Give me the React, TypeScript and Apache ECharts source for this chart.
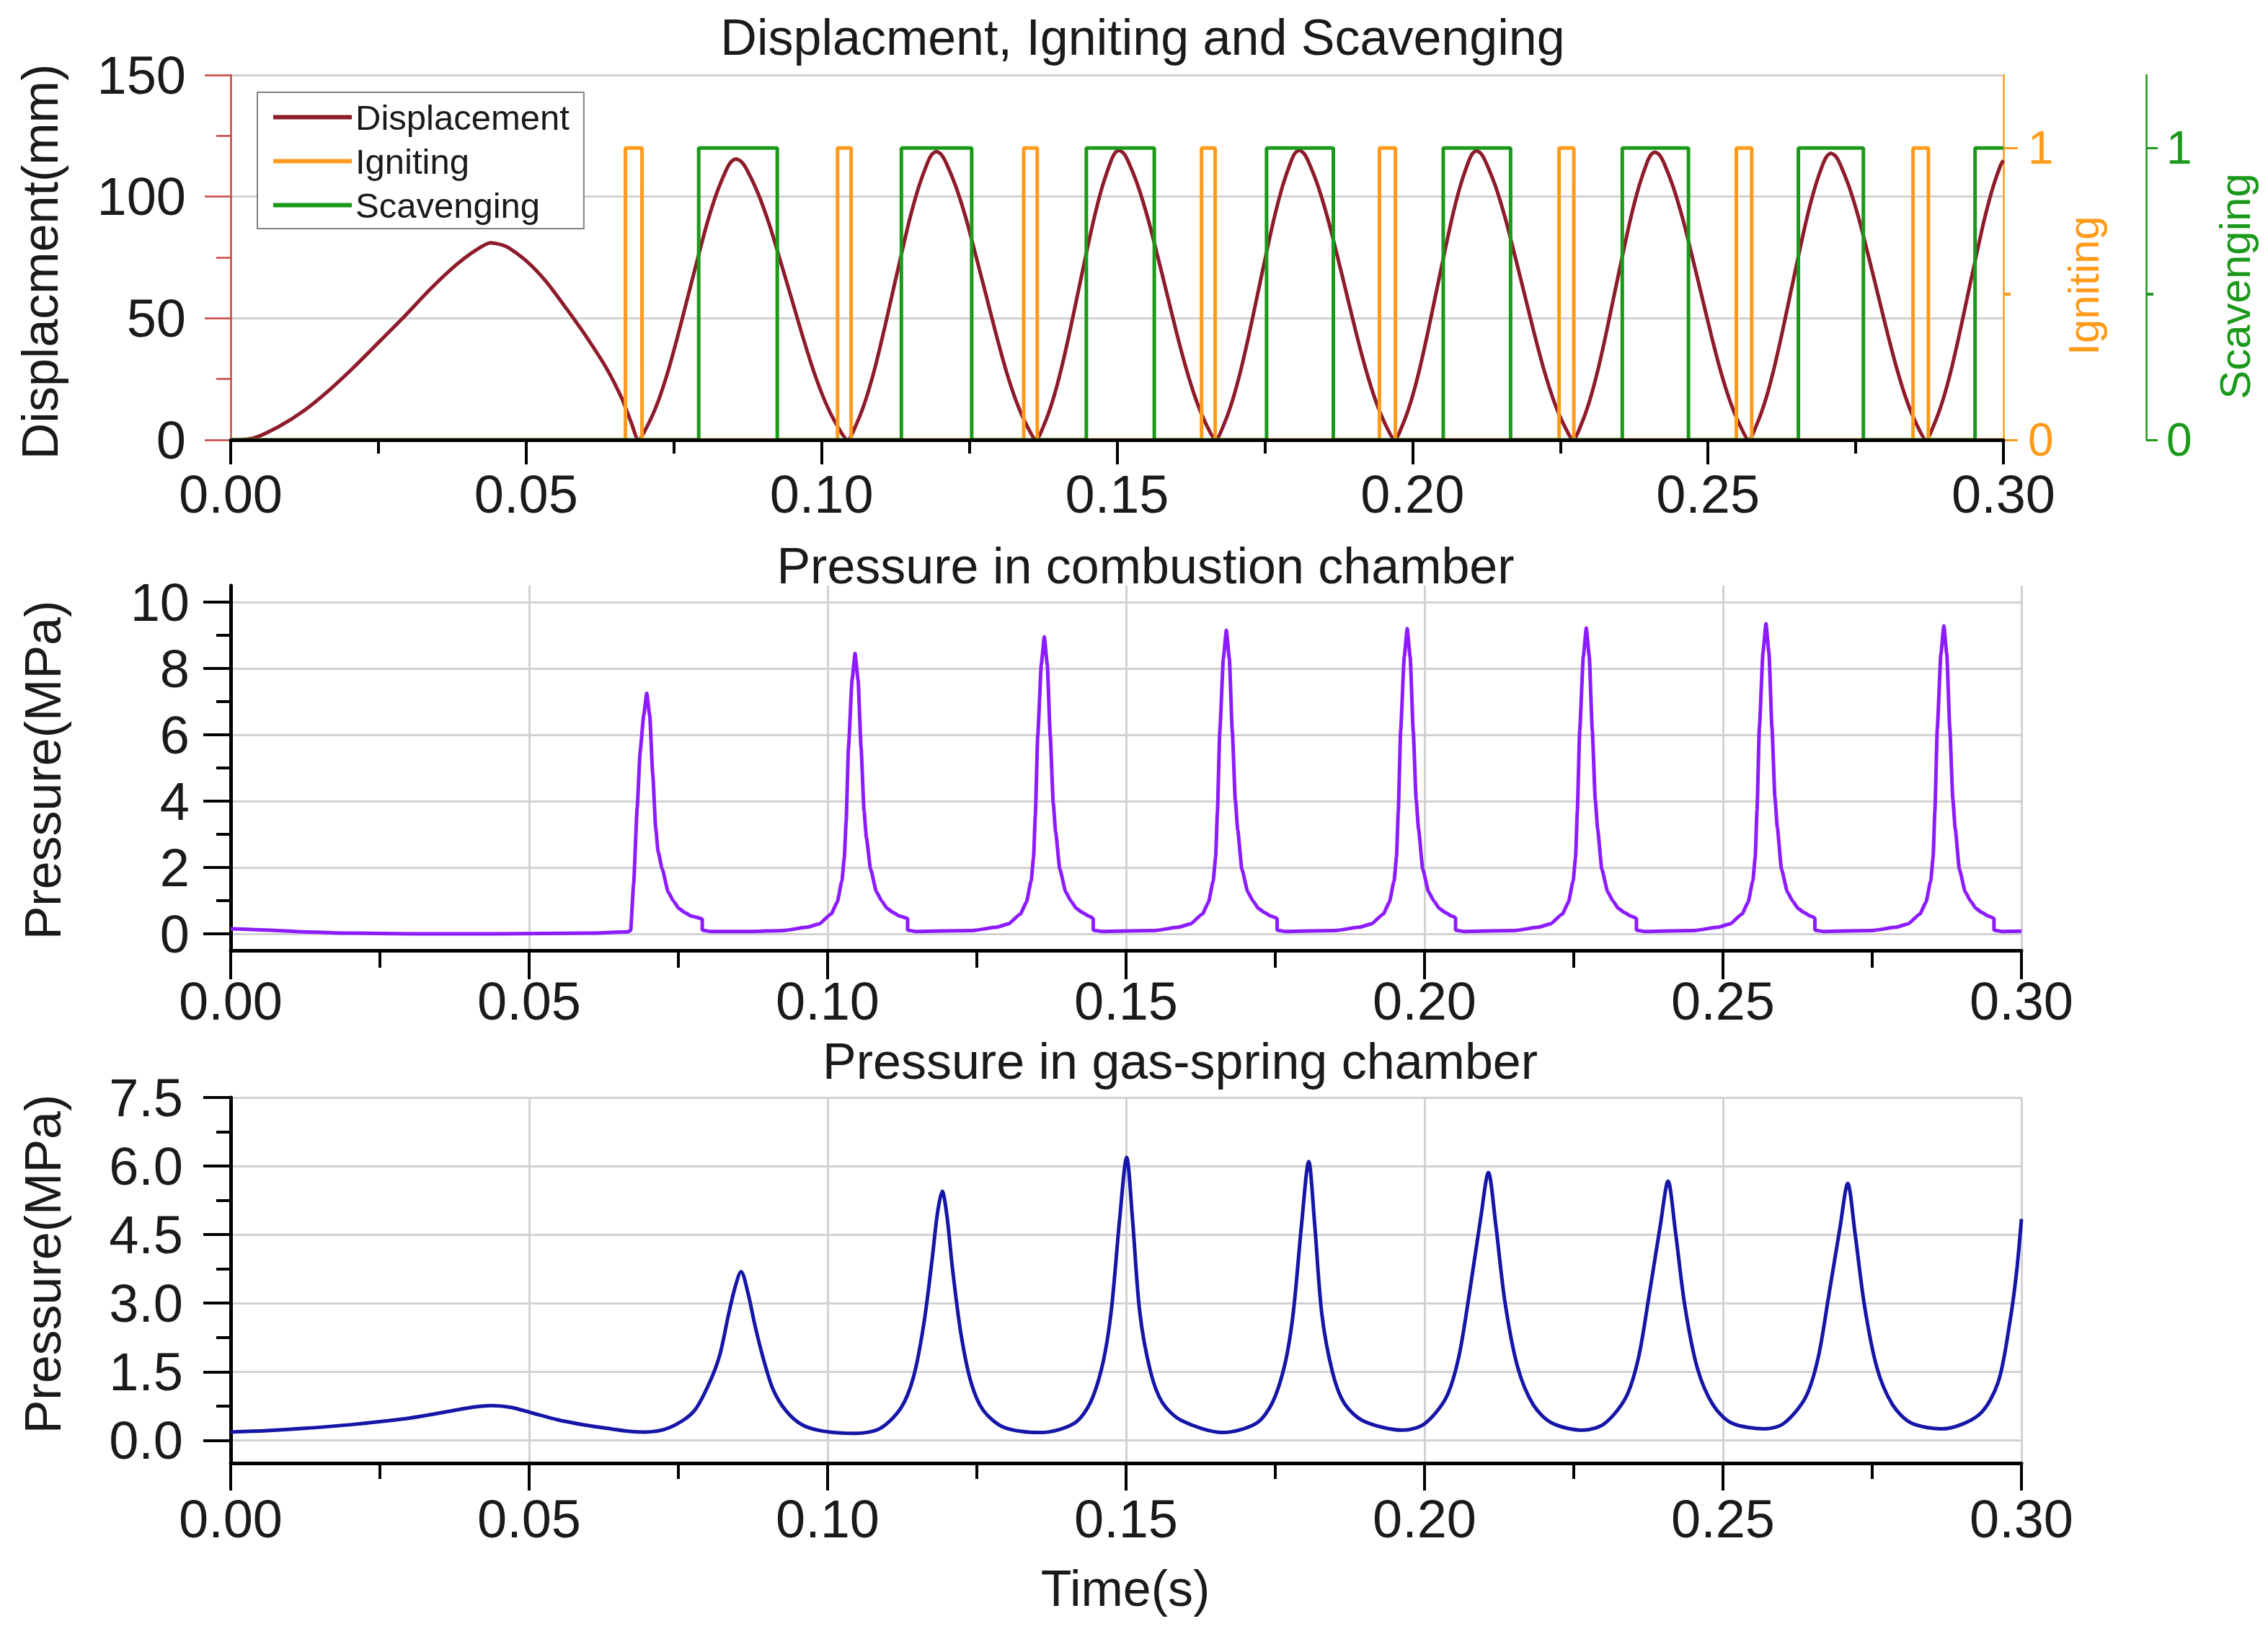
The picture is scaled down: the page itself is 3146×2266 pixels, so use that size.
import React, { useEffect, useRef } from 'react';
import * as echarts from 'echarts';

const FONT = "'Liberation Sans', Arial, Helvetica, sans-serif";
const INK = '#1a1a1a';
const RED_AXIS = '#c8453f';
const DISP_COLOR = '#8e1b2a';
const IGN_COLOR = '#ff9a1a';
const SCAV_COLOR = '#1a991a';
const COMB_COLOR = '#8c1cff';
const GAS_COLOR = '#1515a8';
const GRID_COLOR = '#d2d2d2';

// ---------- data (time in s) ----------
const displacement: [number, number][] = [
  [0, 0], [0.0038, 0.7], [0.0081, 5.4], [0.0124, 12], [0.0167, 20.5], [0.0209, 30], [0.0252, 40.5],
  [0.0295, 51], [0.0338, 62], [0.038, 71.6], [0.0415, 78], [0.044, 81], [0.0466, 79.5], [0.05, 73.6],
  [0.0534, 65], [0.0568, 54], [0.0603, 42], [0.0637, 29], [0.0662, 17], [0.0678, 7], [0.069, 0],
  [0.07065, 6.4], [0.0723, 15.6], [0.07395, 27.7], [0.0756, 42.2], [0.07725, 57.8], [0.0789, 73.3],
  [0.08055, 88.4], [0.0822, 101.1], [0.08385, 110.9], [0.08468, 114.3], [0.0855, 115.5],
  [0.08645, 114.3], [0.08739, 110.9], [0.08928, 101.1], [0.09117, 88.4], [0.09306, 73.3], [0.09495, 57.8],
  [0.09684, 42.2], [0.09873, 27.7], [0.10062, 15.6], [0.10251, 6.4], [0.1044, 0],
  [0.1059, 6.5], [0.1074, 16.0], [0.1089, 28.4], [0.1104, 43.3], [0.1119, 59.3], [0.1134, 75.2],
  [0.1149, 90.7], [0.1164, 103.7], [0.1179, 113.8], [0.11865, 117.3], [0.1194, 118.5],
  [0.12025, 117.3], [0.12109, 113.8], [0.12278, 103.7], [0.12447, 90.7], [0.12616, 75.2], [0.12785, 59.3],
  [0.12954, 43.3], [0.13123, 28.4], [0.13292, 16.0], [0.13461, 6.5], [0.1363, 0],
  [0.1377, 6.5], [0.1391, 16.1], [0.1405, 28.6], [0.1419, 43.4], [0.1433, 59.5], [0.1447, 75.6],
  [0.1461, 91.0], [0.1475, 104.1], [0.1489, 114.2], [0.1496, 117.8], [0.1503, 119],
  [0.15112, 117.8], [0.15194, 114.2], [0.15358, 104.1], [0.15522, 91.0], [0.15686, 75.6], [0.1585, 59.5],
  [0.16014, 43.4], [0.16178, 28.6], [0.16342, 16.1], [0.16506, 6.5], [0.1667, 0],
  [0.16811, 6.5], [0.16952, 16.1], [0.17093, 28.6], [0.17234, 43.4], [0.17375, 59.5], [0.17516, 75.6],
  [0.17657, 91.0], [0.17798, 104.1], [0.17939, 114.2], [0.1801, 117.8], [0.1808, 119],
  [0.18161, 117.8], [0.18242, 114.2], [0.18404, 104.1], [0.18566, 91.0], [0.18728, 75.6], [0.1889, 59.5],
  [0.19052, 43.4], [0.19214, 28.6], [0.19376, 16.1], [0.19538, 6.5], [0.197, 0],
  [0.19838, 6.5], [0.19976, 16.0], [0.20114, 28.5], [0.20252, 43.4], [0.2039, 59.4], [0.20528, 75.4],
  [0.20666, 90.9], [0.20804, 104.0], [0.20942, 114.0], [0.21011, 117.6], [0.2108, 118.8],
  [0.21162, 117.6], [0.21244, 114.0], [0.21408, 104.0], [0.21572, 90.9], [0.21736, 75.4], [0.219, 59.4],
  [0.22064, 43.4], [0.22228, 28.5], [0.22392, 16.0], [0.22556, 6.5], [0.2272, 0],
  [0.22858, 6.5], [0.22996, 16.0], [0.23134, 28.4], [0.23272, 43.2], [0.2341, 59.2], [0.23548, 75.1],
  [0.23686, 90.5], [0.23824, 103.5], [0.23962, 113.6], [0.24031, 117.1], [0.241, 118.3],
  [0.2418, 117.1], [0.24259, 113.6], [0.24418, 103.5], [0.24577, 90.5], [0.24736, 75.1], [0.24895, 59.2],
  [0.25054, 43.2], [0.25213, 28.4], [0.25372, 16.0], [0.25531, 6.5], [0.2569, 0],
  [0.25829, 6.5], [0.25968, 15.9], [0.26107, 28.3], [0.26246, 43.0], [0.26385, 58.9], [0.26524, 74.8],
  [0.26663, 90.1], [0.26802, 103.1], [0.26941, 113.1], [0.27011, 116.6], [0.2708, 117.8],
  [0.27161, 116.6], [0.27241, 113.1], [0.27402, 103.1], [0.27563, 90.1], [0.27724, 74.8], [0.27885, 58.9],
  [0.28046, 43.0], [0.28207, 28.3], [0.28368, 15.9], [0.28529, 6.5], [0.2869, 0],
  [0.2883, 6.5], [0.2897, 15.9], [0.2911, 28.2], [0.2925, 42.9], [0.2939, 58.8], [0.2953, 74.6],
  [0.2967, 89.9], [0.2981, 102.8], [0.2995, 112.8], [0.3, 114.9],
];

const ignitingOn = [0.0668, 0.1027, 0.1342, 0.1643, 0.1944, 0.2248, 0.2548, 0.2847];
const ignitingOff = [0.0696, 0.105, 0.1365, 0.1666, 0.1971, 0.2273, 0.2574, 0.2873];
const scavengingOn = [0.0792, 0.1135, 0.1448, 0.1753, 0.2052, 0.2355, 0.2653, 0.2952];
const scavengingOff = [0.0925, 0.1254, 0.1563, 0.1866, 0.2166, 0.2467, 0.2763, 0.3];

const combustion: [number, number][] = [
  [0, 0.15], [0.005, 0.12], [0.012, 0.06], [0.02, 0.02], [0.03, 0.0], [0.045, 0.0], [0.06, 0.02],
  [0.0665, 0.06], [0.067, 0.1], [0.0675, 1.5], [0.0681, 3.8], [0.0686, 5.5], [0.0692, 6.6], [0.0697, 7.25],
  [0.0702, 6.58], [0.0707, 4.83], [0.0712, 3.19], [0.0716, 2.49], [0.0723, 1.95], [0.0733, 1.26],
  [0.0742, 0.98], [0.0751, 0.76], [0.0761, 0.64], [0.0771, 0.54], [0.079, 0.45], [0.079, 0.11], [0.0805, 0.07],
  [0.087, 0.07],
  [0.0926, 0.1], [0.0966, 0.2], [0.0986, 0.3], [0.1006, 0.6], [0.1016, 0.95], [0.1024, 1.6], [0.1028, 2.3],
  [0.1031, 3.38], [0.1035, 5.63], [0.1041, 7.66], [0.1046, 8.45],
  [0.1051, 7.66], [0.1056, 5.63], [0.1061, 3.72], [0.1065, 2.9], [0.1072, 1.95], [0.1082, 1.26],
  [0.1091, 0.98], [0.11, 0.76], [0.111, 0.64], [0.112, 0.54], [0.1134, 0.47], [0.1134, 0.11], [0.1149, 0.07],
  [0.1243, 0.1], [0.1283, 0.2], [0.1303, 0.3], [0.1323, 0.6], [0.1333, 0.95], [0.1341, 1.6], [0.1345, 2.3],
  [0.1348, 3.58], [0.1352, 5.96], [0.1358, 8.12], [0.1363, 8.95],
  [0.1368, 8.12], [0.1373, 5.96], [0.1378, 3.94], [0.1382, 3.07], [0.1389, 1.95], [0.1399, 1.26],
  [0.1408, 0.98], [0.1417, 0.76], [0.1427, 0.64], [0.1437, 0.54], [0.1445, 0.47], [0.1445, 0.11], [0.146, 0.07],
  [0.1548, 0.1], [0.1588, 0.2], [0.1608, 0.3], [0.1628, 0.6], [0.1638, 0.95], [0.1646, 1.6], [0.165, 2.3],
  [0.1653, 3.66], [0.1657, 6.09], [0.1663, 8.3], [0.1668, 9.15],
  [0.1673, 8.3], [0.1678, 6.09], [0.1683, 4.03], [0.1687, 3.14], [0.1694, 1.95], [0.1704, 1.26],
  [0.1713, 0.98], [0.1722, 0.76], [0.1732, 0.64], [0.1742, 0.54], [0.1753, 0.47], [0.1753, 0.11], [0.1768, 0.07],
  [0.1851, 0.1], [0.1891, 0.2], [0.1911, 0.3], [0.1931, 0.6], [0.1941, 0.95], [0.1949, 1.6], [0.1953, 2.3],
  [0.1956, 3.68], [0.196, 6.13], [0.1966, 8.34], [0.1971, 9.2],
  [0.1976, 8.34], [0.1981, 6.13], [0.1986, 4.05], [0.199, 3.16], [0.1997, 1.95], [0.2007, 1.26],
  [0.2016, 0.98], [0.2025, 0.76], [0.2035, 0.64], [0.2045, 0.54], [0.2052, 0.49], [0.2052, 0.11], [0.2067, 0.07],
  [0.2151, 0.1], [0.2191, 0.2], [0.2211, 0.3], [0.2231, 0.6], [0.2241, 0.95], [0.2249, 1.6], [0.2253, 2.3],
  [0.2256, 3.69], [0.226, 6.14], [0.2266, 8.36], [0.2271, 9.22],
  [0.2276, 8.36], [0.2281, 6.14], [0.2286, 4.06], [0.229, 3.16], [0.2297, 1.95], [0.2307, 1.26],
  [0.2316, 0.98], [0.2325, 0.76], [0.2335, 0.64], [0.2345, 0.54], [0.2355, 0.47], [0.2355, 0.11], [0.237, 0.07],
  [0.2452, 0.1], [0.2492, 0.2], [0.2512, 0.3], [0.2532, 0.6], [0.2542, 0.95], [0.255, 1.6], [0.2554, 2.3],
  [0.2557, 3.74], [0.2561, 6.23], [0.2567, 8.48], [0.2572, 9.35],
  [0.2577, 8.48], [0.2582, 6.23], [0.2587, 4.11], [0.2591, 3.21], [0.2598, 1.95], [0.2608, 1.26],
  [0.2617, 0.98], [0.2626, 0.76], [0.2636, 0.64], [0.2646, 0.54], [0.2654, 0.48], [0.2654, 0.11], [0.2669, 0.07],
  [0.275, 0.1], [0.279, 0.2], [0.281, 0.3], [0.283, 0.6], [0.284, 0.95], [0.2848, 1.6], [0.2852, 2.3],
  [0.2855, 3.71], [0.2859, 6.18], [0.2865, 8.42], [0.287, 9.28],
  [0.2875, 8.42], [0.288, 6.18], [0.2885, 4.08], [0.2889, 3.18], [0.2896, 1.95], [0.2906, 1.26],
  [0.2915, 0.98], [0.2924, 0.76], [0.2934, 0.64], [0.2944, 0.54], [0.2954, 0.47], [0.2954, 0.11], [0.2969, 0.07],
  [0.3, 0.08],
];

const gasSpring: [number, number][] = [
  [0, 0.18], [0.006, 0.21], [0.0123, 0.26], [0.0208, 0.35], [0.0292, 0.47], [0.0335, 0.56], [0.0377, 0.66],
  [0.041, 0.73], [0.0436, 0.76], [0.047, 0.72], [0.0504, 0.6], [0.0547, 0.45], [0.059, 0.34], [0.0631, 0.26],
  [0.0665, 0.2], [0.0695, 0.18],
  [0.0736, 0.28], [0.0775, 0.62], [0.08, 1.2], [0.0819, 1.85], [0.0834, 2.75], [0.0845, 3.35], [0.0855, 3.69],
  [0.0867, 3.2], [0.0878, 2.53], [0.0892, 1.8], [0.0909, 1.1], [0.093, 0.65], [0.0957, 0.34], [0.0992, 0.2],
  [0.1047, 0.15],
  [0.1088, 0.26], [0.1123, 0.71], [0.1144, 1.39], [0.1161, 2.53], [0.1175, 3.95], [0.1184, 4.97], [0.1192, 5.45],
  [0.12, 4.9], [0.1209, 3.78], [0.1223, 2.36], [0.124, 1.28], [0.1261, 0.65], [0.1296, 0.28], [0.1358, 0.17],
  [0.1413, 0.37], [0.144, 0.82], [0.1461, 1.68], [0.1475, 2.81], [0.1489, 4.8], [0.1501, 6.19],
  [0.1511, 4.8], [0.1523, 2.8], [0.1541, 1.5], [0.1561, 0.82], [0.1593, 0.43], [0.1662, 0.17],
  [0.1718, 0.37], [0.1745, 0.82], [0.1766, 1.66], [0.178, 2.78], [0.1794, 4.72], [0.1806, 6.1],
  [0.1816, 4.72], [0.1828, 2.76], [0.1846, 1.48], [0.1866, 0.8], [0.1898, 0.42], [0.1964, 0.22],
  [0.2, 0.36], [0.2036, 0.93], [0.2057, 1.8], [0.2075, 3.2], [0.2094, 4.85], [0.2107, 5.86],
  [0.2119, 4.75], [0.2135, 3.0], [0.2156, 1.6], [0.2182, 0.78], [0.2213, 0.38], [0.2265, 0.22],
  [0.2301, 0.36], [0.2337, 0.93], [0.2358, 1.78], [0.2376, 3.15], [0.2395, 4.7], [0.2408, 5.67],
  [0.242, 4.6], [0.2436, 2.95], [0.2457, 1.58], [0.2483, 0.78], [0.2514, 0.38], [0.2571, 0.25],
  [0.2602, 0.37], [0.2638, 0.93], [0.2659, 1.78], [0.2677, 3.15], [0.2696, 4.65], [0.2709, 5.62],
  [0.2721, 4.55], [0.2737, 2.95], [0.2758, 1.58], [0.2784, 0.78], [0.2815, 0.38], [0.2867, 0.25],
  [0.2929, 0.56], [0.2961, 1.27], [0.2981, 2.62], [0.2992, 3.7], [0.3, 4.84],
];

// tick values
const combMajor = [0, 2, 4, 6, 8, 10];
const combMinor = [1, 3, 5, 7, 9];
const gasMajor = [0, 1.5, 3, 4.5, 6, 7.5];
const gasMinor = [0.75, 2.25, 3.75, 5.25, 6.75];
const stateMajor = [0, 1];
const stateMinor = [0.5];

function stepData(on: number[], off: number[]): [number, number][] {
  const out: [number, number][] = [[0, 0]];
  for (let i = 0; i < on.length; i++) {
    out.push([on[i], 0], [on[i], 1]);
    if (off[i] >= 0.3) {
      out.push([0.3, 1]);
      return out;
    }
    out.push([off[i], 1], [off[i], 0]);
  }
  out.push([0.3, 0]);
  return out;
}

function xAxisCfg(gridIndex: number, tick: number, minor: number, margin: number, grid: boolean) {
  return {
    type: 'value', gridIndex, min: 0, max: 0.3, interval: 0.05,
    z: gridIndex === 0 ? 10 : 0,
    axisLine: { show: true, onZero: false, lineStyle: { color: '#000', width: 5 } },
    axisTick: { show: true, inside: false, length: tick, lineStyle: { color: '#000', width: 4 } },
    minorTick: { show: true, splitNumber: 2, length: minor, lineStyle: { color: '#000', width: 4 } },
    axisLabel: {
      show: true, margin, fontSize: 74, fontFamily: FONT, color: INK,
      formatter: (v: number) => v.toFixed(2),
    },
    splitLine: { show: grid, lineStyle: { color: GRID_COLOR, width: 3 } },
    minorSplitLine: { show: false },
  };
}

function minorYAxis(gridIndex: number, min: number, max: number, values: number[], color: string,
  position: string, offset: number, length: number) {
  return {
    type: 'value', gridIndex, min, max, position, offset,
    axisLine: { show: false, onZero: false },
    axisTick: { show: true, customValues: values, length, lineStyle: { color, width: 4 } },
    axisLabel: { show: false },
    splitLine: { show: false },
  };
}

function label(text: string, x: number, y: number, size: number, fill: string, rotated: boolean) {
  return {
    type: 'text', x, y, rotation: rotated ? Math.PI / 2 : 0,
    style: {
      text, fontSize: size, fontFamily: FONT, fill,
      align: 'center', verticalAlign: 'middle', textAlign: 'center', textVerticalAlign: 'middle',
    },
  };
}

const App: React.FC = () => {
  const ref = useRef<HTMLDivElement>(null);
  useEffect(() => {
    document.body.style.margin = '0';
    if (!ref.current) return;
    const chart = echarts.init(ref.current, undefined, { renderer: 'svg' });
    const textBase = { fontFamily: FONT, color: INK };
    const option: any = {
      animation: false,
      backgroundColor: '#ffffff',
      textStyle: { fontFamily: FONT },
      grid: [
        { left: 320, top: 104, width: 2459, height: 506, containLabel: false, outerBoundsMode: 'none' },
        { left: 320, top: 812, width: 2484, height: 506, containLabel: false, outerBoundsMode: 'none' },
        { left: 320, top: 1522, width: 2484, height: 507, containLabel: false, outerBoundsMode: 'none' },
      ],
      legend: {
        show: true, orient: 'vertical', left: 357, top: 128,
        padding: [10, 20, 8, 22], itemWidth: 109, itemHeight: 6, itemGap: 12,
        icon: 'rect',
        borderColor: '#808080', borderWidth: 2, backgroundColor: '#ffffff',
        textStyle: { fontSize: 49, fontFamily: FONT, color: INK, lineHeight: 49 },
        data: ['Displacement', 'Igniting', 'Scavenging'],
        selectedMode: false,
      },
      xAxis: [
        xAxisCfg(0, 34, 19, 38, false),
        xAxisCfg(1, 40, 24, 33, true),
        xAxisCfg(2, 38, 22, 40, true),
      ],
      yAxis: [
        {
          type: 'value', gridIndex: 0, min: 0, max: 150, interval: 50, position: 'left',
          axisLine: { show: true, onZero: false, lineStyle: { color: RED_AXIS, width: 2.5 } },
          axisTick: { show: true, length: 36, lineStyle: { color: RED_AXIS, width: 2.5 } },
          minorTick: { show: true, splitNumber: 2, length: 20, lineStyle: { color: RED_AXIS, width: 2.5 } },
          axisLabel: { ...textBase, fontSize: 74, margin: 62 },
          splitLine: { show: true, lineStyle: { color: GRID_COLOR, width: 3 } },
        },
        {
          type: 'value', gridIndex: 0, min: 0, max: 1.25, position: 'right', offset: 0,
          axisLine: { show: true, onZero: false, lineStyle: { color: IGN_COLOR, width: 2.5 } },
          axisTick: { show: true, customValues: stateMajor, length: 20, lineStyle: { color: IGN_COLOR, width: 3 } },
          axisLabel: { customValues: stateMajor, fontFamily: FONT, color: IGN_COLOR, fontSize: 64, margin: 34 },
          splitLine: { show: false },
        },
        minorYAxis(0, 0, 1.25, stateMinor, IGN_COLOR, 'right', 0, 10),
        {
          type: 'value', gridIndex: 0, min: 0, max: 1.25, position: 'right', offset: 198,
          axisLine: { show: true, onZero: false, lineStyle: { color: SCAV_COLOR, width: 2.5 } },
          axisTick: { show: true, customValues: stateMajor, length: 16, lineStyle: { color: SCAV_COLOR, width: 3 } },
          axisLabel: { customValues: stateMajor, fontFamily: FONT, color: SCAV_COLOR, fontSize: 64, margin: 28 },
          splitLine: { show: false },
        },
        minorYAxis(0, 0, 1.25, stateMinor, SCAV_COLOR, 'right', 198, 10),
        {
          type: 'value', gridIndex: 1, min: -0.5, max: 10.5, position: 'left',
          axisLine: { show: true, onZero: false, lineStyle: { color: '#000', width: 5 } },
          axisTick: { show: true, customValues: combMajor, length: 38, lineStyle: { color: '#000', width: 4 } },
          axisLabel: { customValues: combMajor, ...textBase, fontSize: 74, margin: 57 },
          splitLine: { show: true, lineStyle: { color: GRID_COLOR, width: 3 } },
        },
        minorYAxis(1, -0.5, 10.5, combMinor, '#000', 'left', 0, 20),
        {
          type: 'value', gridIndex: 2, min: -0.5, max: 7.5, position: 'left',
          axisLine: { show: true, onZero: false, lineStyle: { color: '#000', width: 5 } },
          axisTick: { show: true, customValues: gasMajor, length: 38, lineStyle: { color: '#000', width: 4 } },
          axisLabel: {
            customValues: gasMajor, ...textBase, fontSize: 74, margin: 66,
            formatter: (v: number) => v.toFixed(1),
          },
          splitLine: { show: true, lineStyle: { color: GRID_COLOR, width: 3 } },
        },
        minorYAxis(2, -0.5, 7.5, gasMinor, '#000', 'left', 0, 20),
      ],
      series: [
        {
          name: 'Displacement', type: 'line', xAxisIndex: 0, yAxisIndex: 0, data: displacement,
          symbol: 'none', showSymbol: false, smooth: 0.25,
          lineStyle: { color: DISP_COLOR, width: 5 }, itemStyle: { color: DISP_COLOR },
        },
        {
          name: 'Igniting', type: 'line', xAxisIndex: 0, yAxisIndex: 1, data: stepData(ignitingOn, ignitingOff),
          symbol: 'none', showSymbol: false,
          lineStyle: { color: IGN_COLOR, width: 5 }, itemStyle: { color: IGN_COLOR },
        },
        {
          name: 'Scavenging', type: 'line', xAxisIndex: 0, yAxisIndex: 3, data: stepData(scavengingOn, scavengingOff),
          symbol: 'none', showSymbol: false,
          lineStyle: { color: SCAV_COLOR, width: 5 }, itemStyle: { color: SCAV_COLOR },
        },
        {
          name: 'Combustion', type: 'line', xAxisIndex: 1, yAxisIndex: 5, data: combustion,
          symbol: 'none', showSymbol: false, smooth: 0.15, smoothMonotone: 'x',
          lineStyle: { color: COMB_COLOR, width: 5 }, itemStyle: { color: COMB_COLOR },
        },
        {
          name: 'GasSpring', type: 'line', xAxisIndex: 2, yAxisIndex: 7, data: gasSpring,
          symbol: 'none', showSymbol: false, smooth: 0.3,
          lineStyle: { color: GAS_COLOR, width: 5 }, itemStyle: { color: GAS_COLOR },
        },
      ],
      graphic: {
        elements: [
          label('Displacment, Igniting and Scavenging', 1585, 52, 70, INK, false),
          label('Pressure in combustion chamber', 1589, 785, 70, INK, false),
          label('Pressure in gas-spring chamber', 1637, 1472, 70, INK, false),
          label('Time(s)', 1561, 2203, 70, INK, false),
          label('Displacment(mm)', 56, 363, 70, INK, true),
          label('Pressure(MPa)', 60, 1068, 70, INK, true),
          label('Pressure(MPa)', 60, 1753, 70, INK, true),
          label('Igniting', 2890, 396, 60, IGN_COLOR, true),
          label('Scavenging', 3100, 397, 60, SCAV_COLOR, true),
        ],
      },
    };
    chart.setOption(option);
    return () => chart.dispose();
  }, []);
  return <div ref={ref} style={{ width: 3146, height: 2266 }} />;
};

export default App;
